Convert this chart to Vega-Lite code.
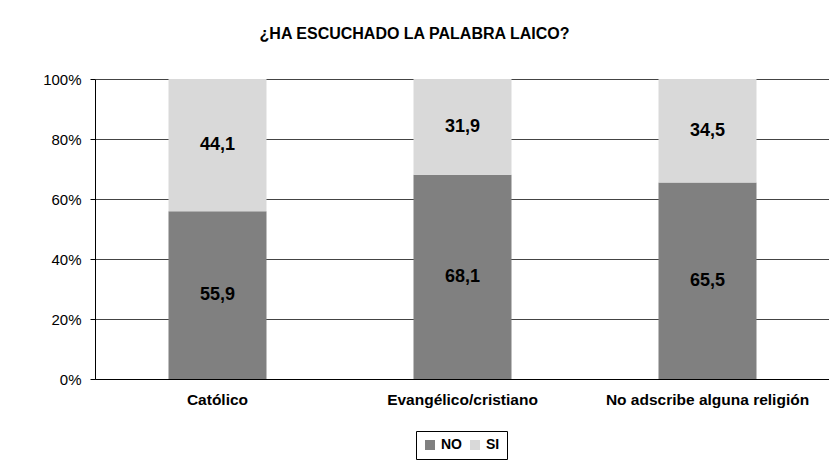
{
  "$schema": "https://vega.github.io/schema/vega-lite/v6.json",
  "width": 735,
  "height": 300,
  "autosize": {"type": "none"},
  "padding": {"left": 95, "top": 79, "right": 0, "bottom": 82},
  "background": "white",
  "title": {
    "text": "¿HA ESCUCHADO LA PALABRA LAICO?",
    "font": "Liberation Sans",
    "fontSize": 16,
    "fontWeight": "bold",
    "color": "#000000",
    "anchor": "middle",
    "baseline": "alphabetic",
    "dx": -48,
    "offset": 17
  },
  "config": {
    "locale": {
      "number": {"decimal": ",", "thousands": ".", "grouping": [3], "currency": ["", " €"]}
    },
    "view": {"stroke": null},
    "font": "Liberation Sans"
  },
  "data": {
    "values": [
      {"categoria": "Católico", "respuesta": "NO", "valor": 55.9},
      {"categoria": "Católico", "respuesta": "SI", "valor": 44.1},
      {"categoria": "Evangélico/cristiano", "respuesta": "NO", "valor": 68.1},
      {"categoria": "Evangélico/cristiano", "respuesta": "SI", "valor": 31.9},
      {"categoria": "No adscribe alguna religión", "respuesta": "NO", "valor": 65.5},
      {"categoria": "No adscribe alguna religión", "respuesta": "SI", "valor": 34.5}
    ]
  },
  "transform": [
    {
      "stack": "valor",
      "groupby": ["categoria"],
      "sort": [{"field": "respuesta", "order": "ascending"}],
      "offset": "normalize",
      "as": ["s0", "s1"]
    },
    {"calculate": "(datum.s0 + datum.s1) / 2", "as": "smid"}
  ],
  "encoding": {
    "x": {
      "field": "categoria",
      "type": "nominal",
      "sort": null,
      "scale": {"paddingInner": 0.6, "paddingOuter": 0.3},
      "axis": {
        "title": null,
        "labelAngle": 0,
        "labelLimit": 400,
        "labelFont": "Liberation Sans",
        "labelFontSize": 15.5,
        "labelFontWeight": "bold",
        "labelColor": "#000000",
        "labelPadding": 13,
        "ticks": false,
        "domainColor": "#000000",
        "domainWidth": 1
      }
    }
  },
  "layer": [
    {
      "mark": {"type": "bar"},
      "encoding": {
        "y": {
          "field": "s0",
          "type": "quantitative",
          "scale": {"domain": [0, 1]},
          "axis": {
            "title": null,
            "format": ".0%",
            "values": [0, 0.2, 0.4, 0.6, 0.8, 1],
            "labelFont": "Liberation Sans",
            "labelFontSize": 15,
            "labelColor": "#000000",
            "labelPadding": 9,
            "tickSize": 5,
            "tickColor": "#000000",
            "domainColor": "#000000",
            "gridColor": "#444444",
            "gridWidth": 1
          }
        },
        "y2": {"field": "s1"},
        "color": {
          "field": "respuesta",
          "type": "nominal",
          "scale": {"domain": ["NO", "SI"], "range": ["#808080", "#d9d9d9"]},
          "legend": {
            "title": null,
            "orient": "none",
            "direction": "horizontal",
            "legendX": 321,
            "legendY": 352,
            "symbolType": "square",
            "symbolSize": 100,
            "symbolStrokeWidth": 0,
            "labelFont": "Liberation Sans",
            "labelFontSize": 14,
            "labelFontWeight": "bold",
            "labelColor": "#000000",
            "labelOffset": 4,
            "columnPadding": 6,
            "padding": 7,
            "strokeColor": "#000000",
            "fillColor": "white"
          }
        }
      }
    },
    {
      "mark": {"type": "text", "font": "Liberation Sans", "fontSize": 18, "fontWeight": "bold", "color": "#000000", "baseline": "middle"},
      "encoding": {
        "y": {"field": "smid", "type": "quantitative"},
        "text": {"field": "valor", "type": "quantitative", "format": ".1f"}
      }
    }
  ]
}
